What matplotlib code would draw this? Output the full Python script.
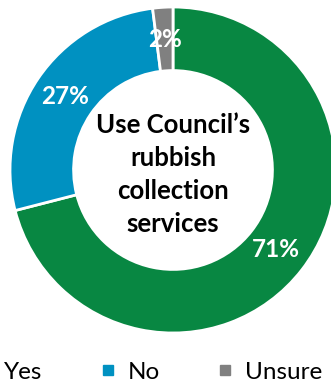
import matplotlib
matplotlib.use("Agg")

import matplotlib.pyplot as plt
from matplotlib.lines import Line2D

labels = ["Yes", "No", "Unsure"]
values = [71, 27, 2]
colors = ["#088742", "#0091C1", "#808080"]
center_title = "Use Council\u2019s\nrubbish\ncollection\nservices"

plt.rcParams["font.family"] = ["Lato", "DejaVu Sans"]

W, H = 331, 388
fig = plt.figure(figsize=(W / 100, H / 100), dpi=100)

# donut centre and radius in pixels
cx, cy, r = 173, 170, 163
ax = fig.add_axes([(cx - r) / W, (H - cy - r) / H, 2 * r / W, 2 * r / H])

wedges, texts, autotexts = ax.pie(
    values,
    colors=colors,
    startangle=90,
    counterclock=False,
    radius=1.0,
    autopct=lambda p: f"{p:.0f}%",
    pctdistance=0.8,
    wedgeprops=dict(width=0.39, edgecolor="white", linewidth=2),
    textprops=dict(color="white", fontsize=17.5, fontweight="bold"),
)
ax.set_xlim(-1, 1)
ax.set_ylim(-1, 1)
ax.set_aspect("equal")
ax.axis("off")

ax.text(0, -0.03, center_title, ha="center", va="center",
        fontsize=18.5, fontweight="bold", color="black", linespacing=1.45)

handles = [Line2D([], [], marker="s", linestyle="none", markersize=7,
                  color=c) for c in colors]
fig.legend(handles, labels, loc="center left", ncol=3, frameon=False,
           bbox_to_anchor=(-0.135, 16 / H), fontsize=17.5,
           handlelength=0.6, handletextpad=0.5, columnspacing=2.4)

fig.savefig("out.png", dpi=100)
